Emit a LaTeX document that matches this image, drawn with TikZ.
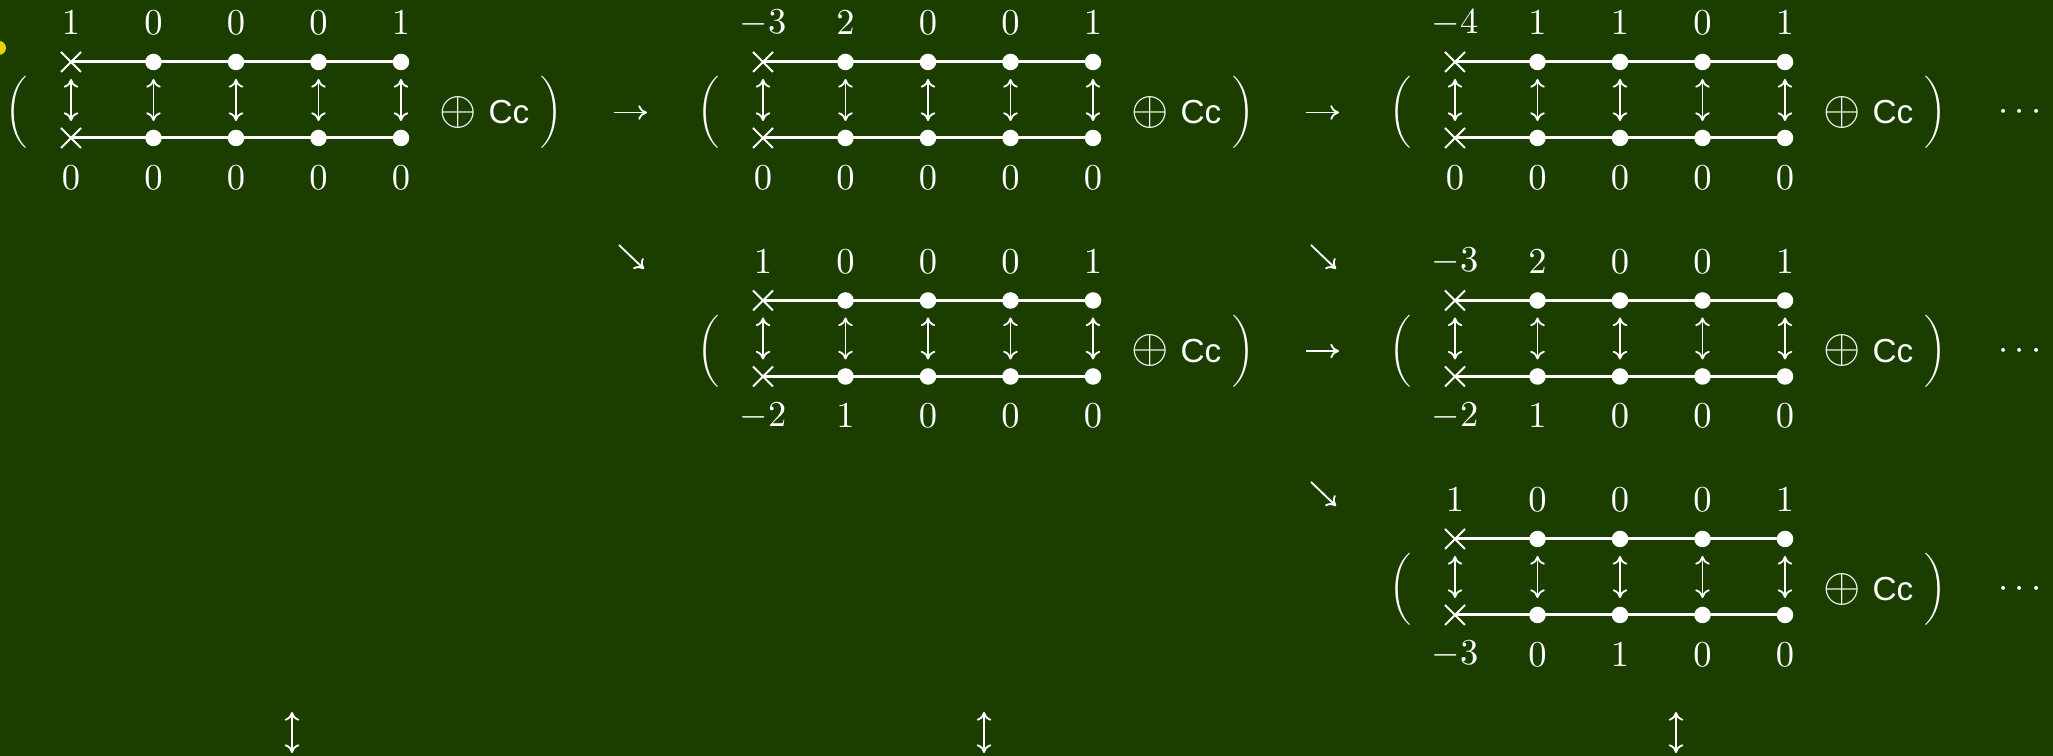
\documentclass[tikz,border=0pt]{standalone}
\usepackage{fontspec}
\newfontfamily\ccfont{Liberation Sans}
\usetikzlibrary{arrows.meta, shapes.misc, calc}
\definecolor{board}{RGB}{27,62,0}
\definecolor{pointer}{RGB}{222,216,0}

\begin{document}
\begin{tikzpicture}[
    x=0.3pt, y=-0.3pt,
    every node/.style={text=white},
    site/.style={circle, fill=white, inner sep=0pt, minimum size=4.95pt},
    xsite/.style={cross out, draw=white, line width=0.6pt, inner sep=0pt, minimum size=5.4pt},
    rail/.style={white, line width=0.9pt},
    updown/.style={{To[length=2.6pt,width=4.4pt]}-{To[length=2.6pt,width=4.4pt]}, white, line width=0.55pt},
    pair/.style={updown, shorten <=5.1pt, shorten >=5.1pt},
    flow/.style={-{To[length=2.6pt,width=4.4pt]}, white, line width=0.55pt},
    num/.style={font=\fontsize{10.7}{13}\selectfont, inner sep=0pt},
    brace/.style={inner sep=0pt},
    plus/.style={font=\fontsize{14}{16}\selectfont, inner sep=0pt},
    cc/.style={font=\ccfont\fontsize{10}{12}\selectfont, inner sep=0pt, anchor=west},
    pics/ladder/.style={code={
        % the two rails
        \node[xsite] (-t1) at (0,0) {};
        \node[xsite] (-b1) at (0,76) {};
        \foreach \i in {2,...,5} {
            \node[site] (-t\i) at ({(\i-1)*82.5},0) {};
            \node[site] (-b\i) at ({(\i-1)*82.5},76) {};
        }
        \draw[rail] (-t1.center) -- (-t5.center);
        \draw[rail] (-b1.center) -- (-b5.center);
        \foreach \i in {1,...,5}
            \draw[pair] (-t\i.center) -- (-b\i.center);
        % weights above and below
        \foreach \tl/\bl [count=\i] in {#1} {
            \node[num] (-u\i) at ({(\i-1)*82.5},-39) {$\tl$};
            \node[num] (-l\i) at ({(\i-1)*82.5},115.5) {$\bl$};
        }
        % brackets and the extra summand
        \node[brace] (-lp) at (-54,50.5) {\scalebox{0.9}{$\bigg($}};
        \node[plus] (-op) at (387,50.5) {$\oplus$};
        \node[cc] (-cc) at (417,50.5) {Cc};
        \node[brace] (-rp) at (481,50.5) {\scalebox{0.9}{$\bigg)$}};
    }}
]

\fill[board] (0,0) rectangle (2053,756);
\useasboundingbox (0,0) rectangle (2053,756);
\fill[pointer] (-1,48) circle[radius=2.1pt];

% first row
\pic (A1) at (71,62) {ladder={1/0,0/0,0/0,0/0,1/0}};
\pic (B1) at (763,62) {ladder={-3/0,2/0,0/0,0/0,1/0}};
\pic (C1) at (1455,62) {ladder={-4/0,1/0,1/0,0/0,1/0}};

% second row
\pic (B2) at (763,300.5) {ladder={1/-2,0/1,0/0,0/0,1/0}};
\pic (C2) at (1455,300.5) {ladder={-3/-2,2/1,0/0,0/0,1/0}};

% third row
\pic (C3) at (1455,539) {ladder={1/-3,0/0,0/1,0/0,1/0}};

% horizontal steps
\draw[flow, shorten <=18.6pt, shorten >=18.6pt] (A1-rp.center) -- (B1-lp.center);
\draw[flow, shorten <=18.6pt, shorten >=18.6pt] (B1-rp.center) -- (C1-lp.center);
\draw[flow, shorten <=18.6pt, shorten >=18.6pt] (B2-rp.center) -- (C2-lp.center);

% diagonal steps
\coordinate (d1a) at (619,245);
\coordinate (d1b) at (644,269);
\coordinate (d2a) at (1311,245);
\coordinate (d2b) at (1336,269);
\coordinate (d3a) at (1311,482);
\coordinate (d3b) at (1336,506);
\draw[flow] (d1a) -- (d1b);
\draw[flow] (d2a) -- (d2b);
\draw[flow] (d3a) -- (d3b);

% continuation
\node[num] (C1-more) at ([xshift=25.2pt]C1-rp) {$\cdots$};
\node[num] (C2-more) at ([xshift=25.2pt]C2-rp) {$\cdots$};
\node[num] (C3-more) at ([xshift=25.2pt]C3-rp) {$\cdots$};

% links to the next level
\coordinate (v1a) at (292,712);
\coordinate (v1b) at (292,753);
\coordinate (v2a) at (984,712);
\coordinate (v2b) at (984,753);
\coordinate (v3a) at (1676,712);
\coordinate (v3b) at (1676,753);
\draw[updown] (v1a) -- (v1b);
\draw[updown] (v2a) -- (v2b);
\draw[updown] (v3a) -- (v3b);

\end{tikzpicture}
\end{document}
